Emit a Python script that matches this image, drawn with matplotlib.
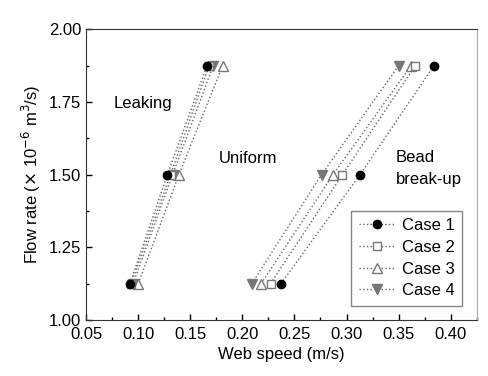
import numpy as np
import matplotlib.pyplot as plt
from matplotlib.ticker import MultipleLocator

plt.rcParams['font.family'] = ['Liberation Sans', 'DejaVu Sans']

# Flow rate levels (x 1e-6 m3/s)
flow = [1.125, 1.5, 1.875]

# Web speed at the leaking limit (m/s)
leak_c1 = [0.092, 0.128, 0.166]
leak_c2 = [0.093, 0.131, 0.168]
leak_c3 = [0.100, 0.139, 0.181]
leak_c4 = [0.095, 0.133, 0.172]

# Web speed at the bead break-up limit (m/s)
break_c1 = [0.237, 0.313, 0.384]
break_c2 = [0.227, 0.296, 0.366]
break_c3 = [0.218, 0.287, 0.362]
break_c4 = [0.209, 0.276, 0.350]

cases = ["Case 1", "Case 2", "Case 3", "Case 4"]
leak = [leak_c1, leak_c2, leak_c3, leak_c4]
brk = [break_c1, break_c2, break_c3, break_c4]

styles = [
    dict(marker='o', mfc='black', mec='black', ms=6),
    dict(marker='s', mfc='white', mec='#777777', ms=6),
    dict(marker='^', mfc='white', mec='#777777', ms=7),
    dict(marker='v', mfc='#777777', mec='#777777', ms=7),
]

fig = plt.figure(figsize=(4.89, 3.76), dpi=100)
ax = fig.add_axes([0.1763, 0.149, 0.7985, 0.773])

for i, (name, lk, bk, st) in enumerate(zip(cases, leak, brk, styles)):
    z = 10 - i
    ax.plot(lk, flow, ls=':', color='#666666', lw=1, mew=1, zorder=z, **st, label=name)
    ax.plot(bk, flow, ls=':', color='#666666', lw=1, mew=1, zorder=z, **st)

ax.set_xlim(0.05, 0.425)
ax.set_ylim(1.0, 2.0)
ax.xaxis.set_major_locator(MultipleLocator(0.05))
ax.xaxis.set_minor_locator(MultipleLocator(0.025))
ax.yaxis.set_major_locator(MultipleLocator(0.25))
ax.yaxis.set_minor_locator(MultipleLocator(0.125))
ax.xaxis.set_major_formatter(plt.FormatStrFormatter('%.2f'))
ax.yaxis.set_major_formatter(plt.FormatStrFormatter('%.2f'))
ax.tick_params(direction='in', labelsize=12, length=4, width=1)
ax.tick_params(which='minor', direction='in', length=2.5, width=1)
ax.tick_params(axis='x', pad=5)

for side in ['left', 'bottom', 'top']:
    ax.spines[side].set_color('#333333')
ax.spines['right'].set_color('#aaaaaa')

ax.set_xlabel("Web speed (m/s)", fontsize=12)
ax.set_ylabel(r"Flow rate ($\times$ 10$^{-6}$ m$^3$/s)", fontsize=12)

ax.text(0.076, 1.745, "Leaking", fontsize=12, va='center')
ax.text(0.177, 1.557, "Uniform", fontsize=12, va='center')
ax.text(0.347, 1.56, "Bead", fontsize=12, va='center')
ax.text(0.347, 1.485, "break-up", fontsize=12, va='center')

leg = ax.legend(loc='lower right', fontsize=12, frameon=True, fancybox=False,
                edgecolor='#666666', handlelength=2.2, handletextpad=0.4,
                labelspacing=0.4, borderpad=0.45, bbox_to_anchor=(0.985, 0.02))
leg.get_frame().set_linewidth(1)
leg.set_zorder(20)

fig.savefig("out.png", dpi=100)
